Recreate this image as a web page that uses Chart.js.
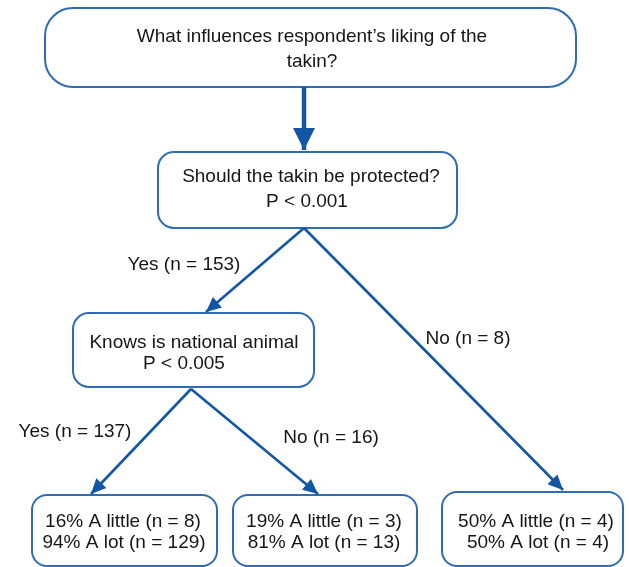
<!DOCTYPE html>
<html>
<head>
<meta charset="utf-8">
<script src="https://cdn.jsdelivr.net/npm/chart.js@4"></script>
<style>
  html, body { margin: 0; padding: 0; background: #fff; }
  #wrap { width: 629px; height: 567px; }
</style>
</head>
<body>
<div id="wrap"><canvas id="tree" width="629" height="567"></canvas></div>
<script>
// Textes des noeuds (questions / résultats)
const nodeLabels = [
    ["What influences respondent\u2019s liking of the", "takin?"],
    ["Should the takin be protected?", "P < 0.001"],
    ["Knows is national animal", "P < 0.005"],
    ["16% A little (n = 8)", "94% A lot (n = 129)"],
    ["19% A little (n = 3)", "81% A lot (n = 13)"],
    ["50% A little (n = 4)", "50% A lot (n = 4)"]
];
// Branches : [depuis, vers]
const edgeLinks = [[0, 1], [1, 2], [1, 5], [2, 3], [2, 4]];
const edgeLabels = ["", "Yes (n = 153)", "No (n = 8)", "Yes (n = 137)", "No (n = 16)"];

// Mise en page (coordonnées de l'axe, pas des données)
const boxes = [
    { x0: 45, y0: 8, x1: 576, y1: 87, r: 28 },
    { x0: 158, y0: 152, x1: 457, y1: 228, r: 16 },
    { x0: 73, y0: 313, x1: 314, y1: 387, r: 16 },
    { x0: 32, y0: 495, x1: 217, y1: 566, r: 15 },
    { x0: 233, y0: 495, x1: 417, y1: 566, r: 15 },
    { x0: 442, y0: 492, x1: 623, y1: 566, r: 15 }
];
const textPos = [
    [[312, 37], [312, 62]],
    [[311, 177], [307, 202]],
    [[194, 343], [184, 364]],
    [[123, 522], [124, 543]],
    [[324, 522], [324, 543]],
    [[536, 522], [538, 543]]
];
const edgePos = [
    [[304, 87], [304, 150]],
    [[304, 228], [206, 312]],
    [[304, 228], [563, 490]],
    [[191, 389], [91, 494]],
    [[191, 389], [318, 494]]
];
const edgeLabelPos = [[0, 0], [184, 265], [468, 339], [75, 432], [331, 438]];

const BOX_COLOR = "#2f6cb4";
const LINE_COLOR = "#1456a6";
const FONT = '19px "Liberation Sans", Arial, sans-serif';

// Boîtes arrondies + textes, dessinés via les échelles du graphique
const treePlugin = {
    id: "treePlugin",
    beforeDatasetsDraw(chart) {
        const { ctx, scales: { x, y } } = chart;
        ctx.save();
        ctx.strokeStyle = BOX_COLOR;
        ctx.lineWidth = 2;
        boxes.forEach(b => {
            const px0 = x.getPixelForValue(b.x0), px1 = x.getPixelForValue(b.x1);
            const py0 = y.getPixelForValue(b.y0), py1 = y.getPixelForValue(b.y1);
            ctx.beginPath();
            ctx.roundRect(px0, py0, px1 - px0, py1 - py0, b.r);
            ctx.fillStyle = "#fff";
            ctx.fill();
            ctx.stroke();
        });
        ctx.restore();
    },
    afterDatasetsDraw(chart) {
        const { ctx, scales: { x, y } } = chart;
        ctx.save();
        // pointes de flèche
        chart.data.datasets.forEach((ds, i) => {
            const pts = ds.data;
            const ax = x.getPixelForValue(pts[0].x), ay = y.getPixelForValue(pts[0].y);
            const bx = x.getPixelForValue(pts[1].x), by = y.getPixelForValue(pts[1].y);
            const ang = Math.atan2(by - ay, bx - ax);
            const len = i === 0 ? 22 : 15;
            const half = i === 0 ? 11 : 7;
            ctx.save();
            ctx.translate(bx, by);
            ctx.rotate(ang);
            ctx.beginPath();
            ctx.moveTo(0, 0);
            ctx.lineTo(-len, -half);
            ctx.lineTo(-len, half);
            ctx.closePath();
            ctx.fillStyle = LINE_COLOR;
            ctx.fill();
            ctx.restore();
        });
        // textes
        ctx.font = FONT;
        ctx.fillStyle = "#161616";
        ctx.textAlign = "center";
        ctx.textBaseline = "middle";
        nodeLabels.forEach((lines, i) => {
            lines.forEach((t, j) => {
                const p = textPos[i][j];
                ctx.fillText(t, x.getPixelForValue(p[0]), y.getPixelForValue(p[1]));
            });
        });
        edgeLabels.forEach((t, i) => {
            if (!t) return;
            const p = edgeLabelPos[i];
            ctx.fillText(t, x.getPixelForValue(p[0]), y.getPixelForValue(p[1]));
        });
        ctx.restore();
    }
};

const datasets = edgeLinks.map((link, i) => ({
    label: nodeLabels[link[0]][0] + " -> " + nodeLabels[link[1]][0],
    data: edgePos[i].map(p => ({ x: p[0], y: p[1] })),
    showLine: true,
    borderColor: LINE_COLOR,
    borderWidth: i === 0 ? 4.5 : 2.6,
    pointRadius: 0,
    borderCapStyle: "butt",
    fill: false
}));

const ctx = document.getElementById("tree").getContext("2d");
new Chart(ctx, {
    type: "scatter",
    data: { datasets: datasets },
    options: {
        responsive: false,
        animation: false,
        layout: { padding: 0 },
        plugins: { legend: { display: false }, tooltip: { enabled: false } },
        scales: {
            x: { type: "linear", min: 0, max: 629, display: false },
            y: { type: "linear", min: 0, max: 567, reverse: true, display: false }
        }
    },
    plugins: [treePlugin]
});
</script>
</body>
</html>
